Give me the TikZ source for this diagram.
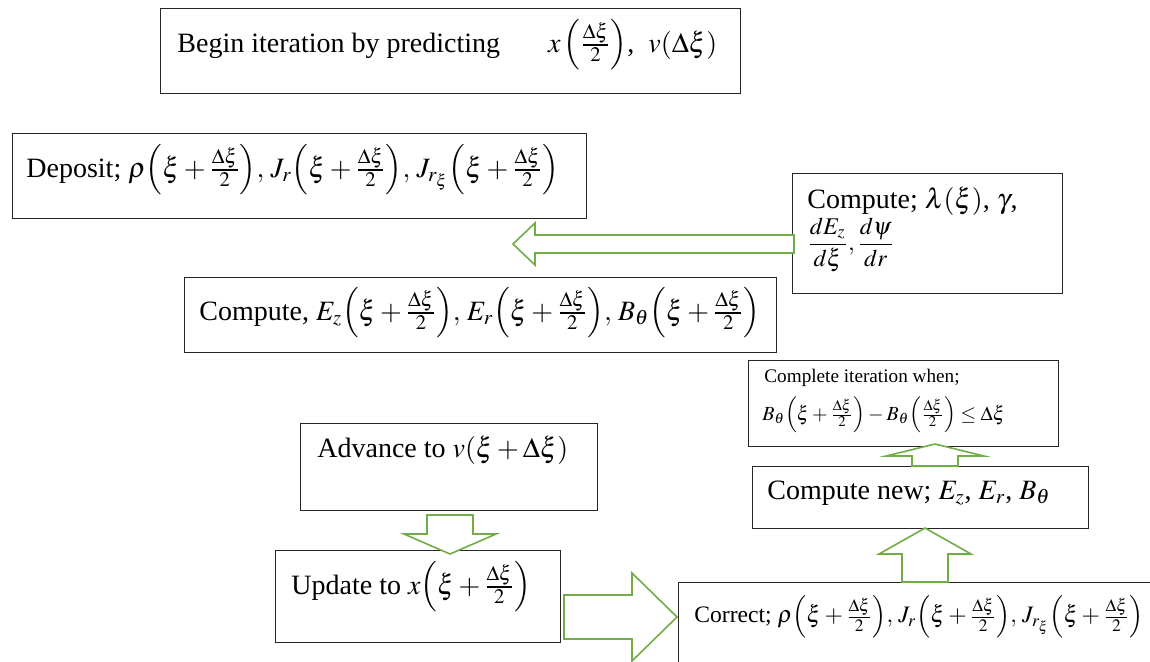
\documentclass[tikz,border=0pt]{standalone}
\usepackage{amsmath}
\usepackage{mathptmx}
\usepackage{fontspec}
\setmainfont{Liberation Serif}
\usetikzlibrary{calc}
\definecolor{arrowgreen}{HTML}{70AD47}
\newcommand{\halfstep}{\Bigl(\xi+\tfrac{\Delta\xi}{2}\Bigr)}
\begin{document}
\begin{tikzpicture}[x=0.5pt,y=-0.5pt,
  box/.style={draw=black!85, line width=0.6pt, inner sep=0pt, anchor=north west},
  txt/.style={anchor=west, inner sep=0pt, align=left, font=\fontsize{14}{17}\selectfont},
  hollow/.style={draw=arrowgreen, line width=0.8pt, fill=white, line join=miter}]
\useasboundingbox (0,0) rectangle (1150,661);
% boxes
\node[box, minimum width=290pt, minimum height=42.5pt] (b1) at (160,8) {};
\node[box, minimum width=287pt, minimum height=42.5pt] (b2) at (12,133) {};
\node[box, minimum width=135pt, minimum height=60pt] (b3) at (792,173) {};
\node[box, minimum width=296pt, minimum height=37.5pt] (b4) at (184,277) {};
\node[box, minimum width=155pt, minimum height=43pt] (b5) at (748,360) {};
\node[box, minimum width=168pt, minimum height=31pt] (b6) at (752,466) {};
\node[box, minimum width=148.5pt, minimum height=43.5pt] (b7) at (300,423) {};
\node[box, minimum width=142.5pt, minimum height=46pt] (b8) at (275,550) {};
\node[box, minimum width=245pt, minimum height=50pt] (b9) at (678,582) {};
% texts
\node[txt] (t1) at (177,45) {Begin iteration by predicting\hspace{24pt}$x\,\Bigl(\tfrac{\Delta\xi}{2}\Bigr)$,\ \ $v(\Delta\xi)$};
\node[txt] (t2) at (26,170) {Deposit; $\rho\halfstep,\,J_r\halfstep,\,J_{r_\xi}\halfstep$};
\node[txt] (t3a) at (807,201) {Compute; $\lambda(\xi)$, $\gamma$,};
\node[txt, font=\fontsize{12}{14}\selectfont] (t3b) at (807,245) {$\dfrac{dE_z}{d\xi}, \dfrac{d\psi}{dr}$};
\node[txt] (t4) at (199,313) {Compute, $E_z\halfstep,\,E_r\halfstep,\,B_\theta\halfstep$};
\node[txt, font=\fontsize{9.6}{11}\selectfont] (t5a) at (764,378) {Complete iteration when;};
\node[txt, font=\fontsize{10}{12}\selectfont] (t5b) at (762,415) {$B_\theta\Bigl(\xi+\tfrac{\Delta\xi}{2}\Bigr)-B_\theta\Bigl(\tfrac{\Delta\xi}{2}\Bigr)\le\Delta\xi$};
\node[txt] (t6) at (767,493) {Compute new; $E_z$, $E_r$, $B_\theta$};
\node[txt] (t7) at (317,450) {Advance to $v(\xi+\Delta\xi)$};
\node[txt] (t8) at (291,587) {Update to $x\halfstep$};
\node[txt, font=\fontsize{11.8}{14}\selectfont] (t9) at (694,617) {Correct; $\rho\halfstep,\,J_r\halfstep,\,J_{r_\xi}\halfstep$};
% arrow tips (free ends)
\coordinate (tipL) at (513,244);
\coordinate (tipS) at (935,444);
\coordinate (tipB) at (925,528);
\coordinate (tipD) at (450,554);
\coordinate (tipR) at (677,617);
% hollow block arrows
\draw[hollow] (tipL) -- ++(22,-21) -- ++(0,12) -- ($(b3.north west)+(2,62)$) -- ++(0,18) -- ($(tipL)+(22,9)$) -- ++(0,12) -- cycle;
\draw[hollow] (tipS) -- ++(49,12) -- ++(-26,0) -- ++(0,10) -- ++(-46,0) -- ++(0,-10) -- ++(-26,0) -- cycle;
\draw[hollow] (tipB) -- ++(46,26) -- ++(-23,0) -- ++(0,28) -- ++(-46,0) -- ++(0,-28) -- ++(-23,0) -- cycle;
\draw[hollow] (tipD) -- ++(46,-20) -- ++(-23,0) -- ++(0,-19) -- ++(-46,0) -- ++(0,19) -- ++(-23,0) -- cycle;
\draw[hollow] (tipR) -- ++(-45,-44) -- ++(0,22) -- ++(-68,0) -- ++(0,44) -- ++(68,0) -- ++(0,22) -- cycle;
\end{tikzpicture}
\end{document}
